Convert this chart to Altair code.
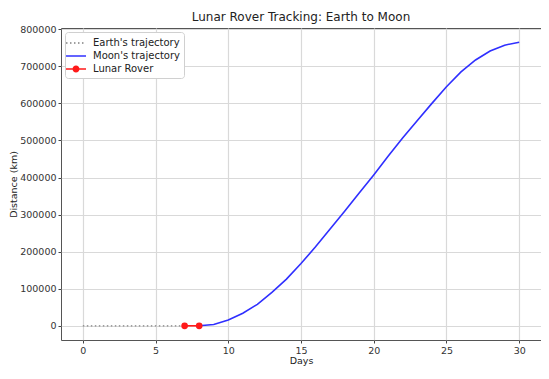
import altair as alt
import pandas as pd

# ---- data ----
earth_days = [0, 1, 2, 3, 4, 5, 6, 7]
earth_dist = [0, 0, 0, 0, 0, 0, 0, 0]

moon_days = [8, 9, 10, 11, 12, 13, 14, 15, 16, 17, 18, 19, 20,
             21, 22, 23, 24, 25, 26, 27, 28, 29, 30]
moon_dist = [0, 3500, 15600, 34000, 58000, 90000, 126000, 168000, 213000,
             261000, 309000, 358000, 407000, 458000, 507000, 554000, 600000,
             645000, 685000, 717000, 741000, 757000, 765000]

rover_days = [7, 8]
rover_dist = [0, 0]

series_names = ["Earth's trajectory", "Moon's trajectory", "Lunar Rover"]
series_colors = ["gray", "#2f2fff", "#ff1a1a"]

x_ticks = [0, 5, 10, 15, 20, 25, 30]
y_ticks = [0, 100000, 200000, 300000, 400000, 500000, 600000, 700000, 800000]

# ---- tables ----
earth_df = pd.DataFrame({"day": earth_days, "distance": earth_dist, "series": series_names[0]})
moon_df = pd.DataFrame({"day": moon_days, "distance": moon_dist, "series": series_names[1]})
rover_df = pd.DataFrame({"day": rover_days, "distance": rover_dist, "series": series_names[2]})
legend_df = pd.DataFrame({"day": [7, 7, 7], "distance": [0, 0, 0], "series": series_names})

FONT = "DejaVu Sans"

x_enc = alt.X("day:Q",
              scale=alt.Scale(domain=[-1.5, 31.5], nice=False, zero=False),
              axis=alt.Axis(values=x_ticks, format="d", title="Days"))
y_enc = alt.Y("distance:Q",
              scale=alt.Scale(domain=[-38250, 803250], nice=False, zero=False),
              axis=alt.Axis(values=y_ticks, format="d", title="Distance (km)"))

earth = alt.Chart(earth_df).mark_line(
    color=series_colors[0], strokeDash=[1.5, 2.5], strokeWidth=1.3
).encode(x=x_enc, y=y_enc)

moon = alt.Chart(moon_df).mark_line(
    color=series_colors[1], strokeWidth=1.6
).encode(x=x_enc, y=y_enc)

rover_line = alt.Chart(rover_df).mark_line(
    color=series_colors[2], strokeWidth=1.6
).encode(x=x_enc, y=y_enc)

rover_pts = alt.Chart(rover_df).mark_point(
    color=series_colors[2], filled=True, size=45, opacity=1
).encode(x=x_enc, y=y_enc)

# custom legend symbols (unit = 7 px with symbolSize 196)
earth_sym = " ".join(
    f"M{x0:.3f},-0.107L{x0 + 0.214:.3f},-0.107L{x0 + 0.214:.3f},0.107L{x0:.3f},0.107Z"
    for x0 in [-1.43, -0.859, -0.288, 0.283, 0.854]
)
moon_sym = "M-1.43,-0.107L1.43,-0.107L1.43,0.107L-1.43,0.107Z"
rover_sym = ("M-1.43,-0.107L-0.45,-0.107L-0.45,0.107L-1.43,0.107Z "
             "M0.45,-0.107L1.43,-0.107L1.43,0.107L0.45,0.107Z "
             "M-0.5,0A0.5,0.5 0 1,1 0.5,0A0.5,0.5 0 1,1 -0.5,0Z")

legend_props = dict(
    title=None, orient="top-left", offset=4,
    fillColor="white", strokeColor="#d0d0d0", cornerRadius=3,
    padding=4, rowPadding=1, symbolSize=196,
    symbolOpacity=1, symbolStrokeWidth=0,
    labelFontSize=10, labelFont=FONT, labelColor="#222",
    labelOffset=10,
)

legend_layer = alt.Chart(legend_df).mark_point(filled=True, opacity=0).encode(
    x=x_enc, y=y_enc,
    color=alt.Color("series:N",
                    scale=alt.Scale(domain=series_names, range=series_colors),
                    legend=alt.Legend(**legend_props)),
    shape=alt.Shape("series:N",
                    scale=alt.Scale(domain=series_names,
                                    range=[earth_sym, moon_sym, rover_sym]),
                    legend=alt.Legend(**legend_props)),
)

chart = alt.layer(earth, moon, rover_line, rover_pts, legend_layer).properties(
    width=480, height=312,
    title=alt.TitleParams("Lunar Rover Tracking: Earth to Moon", fontSize=12,
                          fontWeight="normal", font=FONT, color="#222",
                          anchor="middle", offset=0),
    autosize=alt.AutoSizeParams(type="none"),
    padding={"left": 53, "top": 20, "right": 0, "bottom": 26},
).configure_view(
    stroke="#555", strokeWidth=1
).configure_axis(
    domain=False, grid=True, gridColor="#d9d9d9", gridWidth=1.2,
    tickColor="#444", tickSize=3, labelPadding=2,
    labelFont=FONT, labelFontSize=9.5, labelColor="#333",
    titleFont=FONT, titleFontSize=9.5, titleFontWeight="normal", titleColor="#222",
).configure_axisX(titlePadding=1).configure_axisY(titlePadding=1)

chart.save("out.html", embed_options={"renderer": "svg", "actions": False})
